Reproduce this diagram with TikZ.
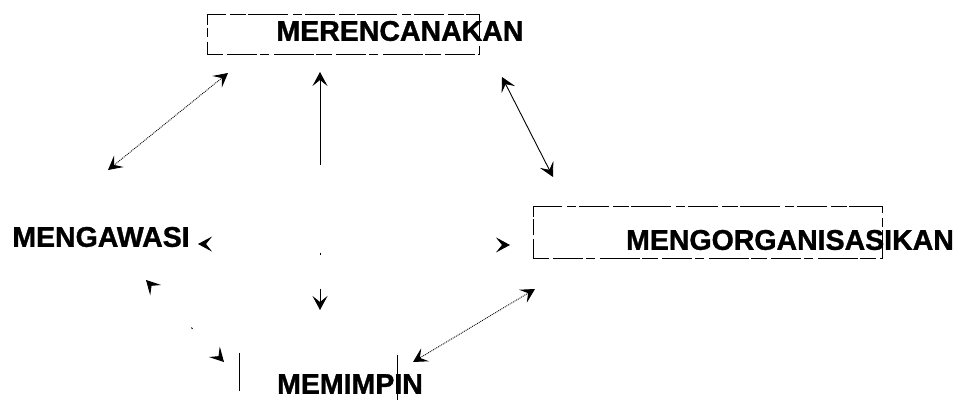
\documentclass[tikz,border=0pt]{standalone}
\usepackage{fontspec}
\setmainfont{Liberation Sans}[BoldFeatures={FakeBold=1.2}]
\usetikzlibrary{arrows.meta,calc}
\begin{document}
\begin{tikzpicture}[x=1pt,y=-1pt,
  lbl/.style={inner sep=0pt, font=\fontsize{28.5}{30}\selectfont\bfseries},
  frame/.style={inner sep=0pt, line width=0.8pt, dash pattern=on 16pt off 4pt on 30pt off 3pt on 9pt off 5pt on 40pt off 2pt},
  barb/.tip={Stealth[length=14pt,width=15pt,inset=6pt]},
  conn/.style={line width=0.9pt, barb-barb},
  faint/.style={conn, dash pattern=on 0pt off #1 on 1.8pt off 400pt},
]
\fill[white] (0,0) rectangle (960,401);
\useasboundingbox (0,0) rectangle (960,401);

% boxes
\node[frame, draw, minimum width=272, minimum height=40] (planbox) at (343,34) {};
\node[frame, draw, minimum width=349, minimum height=52] (orgbox) at (707.5,232) {};
\node[inner sep=0pt, minimum width=157, minimum height=57] (membox) at (318.5,381.5) {};
\draw[line width=0.8pt] (membox.north west) -- ($(membox.west)+(0,9)$);
\draw[line width=0.8pt] ($(membox.north east)+(0,2)$) -- ($(membox.south east)+(0,-10)$);

% labels
\node[lbl] (plan) at (400,31) {MERENCANAKAN};
\node[lbl] (wasi) at (101,237) {MENGAWASI};
\node[lbl] (org)  at (790,240) {MENGORGANISASIKAN};
\node[lbl] (mem)  at (350,384) {MEMIMPIN};

% connectors
\draw[conn, densely dotted] ($(planbox.center)+(-115,39)$) -- ($(wasi.center)+(7,-67)$);
\draw[conn, dash pattern=on 85pt off 88pt on 2pt off 34pt on 40pt] ($(planbox.center)+(-23,38)$) -- ($(membox.center)+(1.5,-71.5)$);
\draw[conn] ($(planbox.center)+(159,43)$) -- ($(orgbox.center)+(-154.5,-55)$);
\draw[conn, densely dotted] ($(orgbox.center)+(-172.5,57)$) -- ($(membox.center)+(94.5,-19.5)$);
\draw[faint=58pt] ($(wasi.center)+(45,43)$) -- ($(membox.center)+(-94.5,-19.5)$);
\draw[faint=400pt] ($(wasi.center)+(97,7)$) -- ($(orgbox.center)+(-197.5,13)$);
\end{tikzpicture}
\end{document}
